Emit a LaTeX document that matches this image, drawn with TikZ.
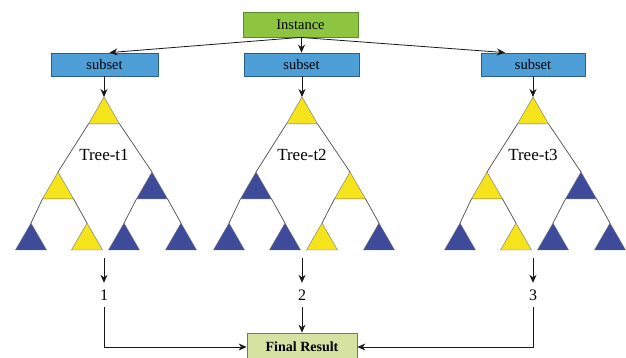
\documentclass[tikz,border=0pt]{standalone}
\usepackage{fontspec}
\setmainfont{Liberation Serif}
\usetikzlibrary{shapes.geometric,arrows.meta}
\definecolor{ylw}{HTML}{F5E31C}
\definecolor{blu}{HTML}{3E4B9B}
\definecolor{grnbox}{HTML}{8DC440}
\definecolor{grnedge}{HTML}{5B8A2E}
\definecolor{bluebox}{HTML}{4E9FD8}
\definecolor{blueedge}{HTML}{2E5E86}
\definecolor{finbox}{HTML}{D4E2A2}
\definecolor{finedge}{HTML}{6F7B55}
\newcommand\mytree[8]{%
  \node[ytri] (#1r) at (#2,114.9) {};
  \node[#3] (#1L) at (#2-46,189.9) {};
  \node[#4] (#1R) at (#2+48,189.9) {};
  \node[#5] (#1LL) at (#2-73,241) {};
  \node[#6] (#1LR) at (#2-17,241) {};
  \node[#7] (#1RL) at (#2+20,241) {};
  \node[#8] (#1RR) at (#2+77,241) {};
  \draw[treeedge] (#1r.corner 2) -- (#1L.corner 1);
  \draw[treeedge] (#1r.corner 3) -- (#1R.corner 1);
  \draw[treeedge] (#1L.corner 2) -- (#1LL.corner 1);
  \draw[treeedge] (#1L.corner 3) -- (#1LR.corner 1);
  \draw[treeedge] (#1R.corner 2) -- (#1RL.corner 1);
  \draw[treeedge] (#1R.corner 3) -- (#1RR.corner 1);
}
\begin{document}
\begin{tikzpicture}[x=1pt,y=-1pt,
  box/.style={draw, line width=0.8pt, inner sep=0pt, minimum height=23pt, font=\fontsize{14.5}{15}\selectfont},
  subbox/.style={box, fill=bluebox, draw=blueedge},
  tri/.style={regular polygon, regular polygon sides=3, minimum size=35.8pt, inner sep=0pt, outer sep=0pt, draw=black!55, line width=0.4pt},
  ytri/.style={tri, fill=ylw},
  btri/.style={tri, fill=blu},
  treeedge/.style={draw=black!70, line width=0.7pt},
  arr/.style={draw=black!90, line width=0.8pt, -{Stealth[length=8pt,width=7pt]}},
  num/.style={minimum height=24pt, inner sep=0pt, font=\fontsize{16}{17}\selectfont},
  lbl/.style={font=\fontsize{17}{19}\selectfont}
]
\useasboundingbox (0,0) rectangle (626,358);
\fill[white] (0,0) rectangle (626,358);

% top boxes
\node[box, fill=grnbox, draw=grnedge, minimum width=115pt, minimum height=25pt] (inst) at (300.5,24.5) {Instance};
\node[subbox, minimum width=107pt] (s1) at (104.5,64.5) {subset};
\node[subbox, minimum width=115pt] (s2) at (301.5,64.5) {subset};
\node[subbox, minimum width=104pt] (s3) at (533,64.5) {subset};

\draw[arr] (inst.south) -- ([xshift=5pt]s1.north);
\draw[arr] (inst.south -| s2.north) -- (s2.north);
\draw[arr] (inst.south) -- ([xshift=-28pt]s3.north);

% trees
\mytree{a}{104}{ytri}{btri}{btri}{ytri}{btri}{btri}
\mytree{b}{302}{btri}{ytri}{btri}{btri}{ytri}{btri}
\mytree{c}{533}{ytri}{btri}{btri}{ytri}{btri}{btri}

\draw[arr] (s1.south -| ar.corner 1) -- (ar.corner 1);
\draw[arr] (s2.south -| br.corner 1) -- (br.corner 1);
\draw[arr] (s3.south -| cr.corner 1) -- (cr.corner 1);

\node[lbl] (la) at (104,155) {Tree-t1};
\node[lbl] (lb) at (302,155) {Tree-t2};
\node[lbl] (lc) at (533,155) {Tree-t3};

% outputs
\coordinate (d1) at (104,258);
\coordinate (d2) at (302,258);
\coordinate (d3) at (533,258);
\node[num] (n1) at (104,295) {1};
\node[num] (n2) at (302,295) {2};
\node[num] (n3) at (533,295) {3};
\draw[arr] (d1) -- (n1.north);
\draw[arr] (d2) -- (n2.north);
\draw[arr] (d3) -- (n3.north);

\node[box, fill=finbox, draw=finedge, minimum width=110pt, minimum height=28pt, font=\fontsize{14}{15}\selectfont\bfseries] (fin) at (302,347) {Final Result};
\draw[arr] (n1.south) |- (fin.west);
\draw[arr] (n2.south) -- (fin.north);
\draw[arr] (n3.south) |- (fin.east);
\end{tikzpicture}
\end{document}
